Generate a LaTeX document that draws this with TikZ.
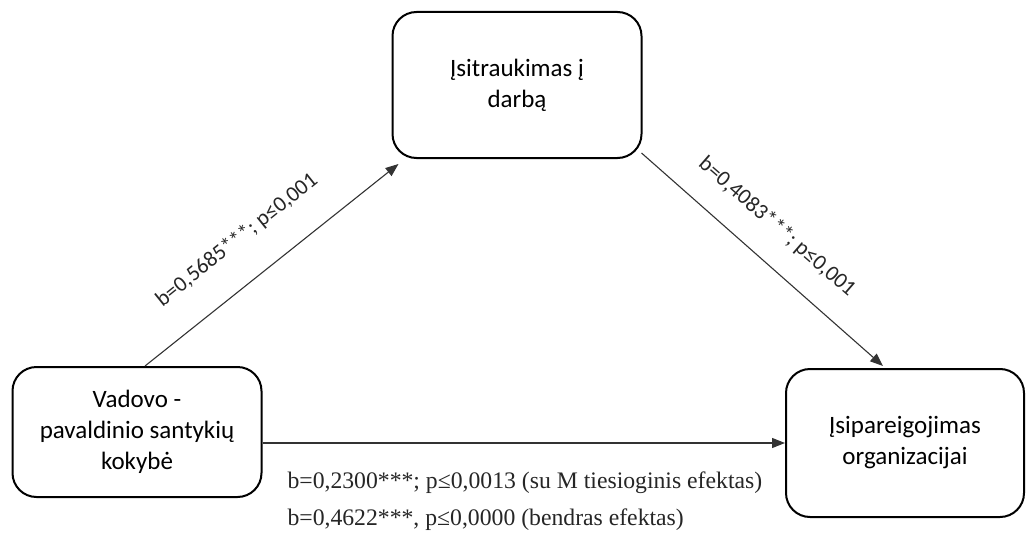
\documentclass[tikz,border=0pt]{standalone}
\usepackage{fontspec}
\setmainfont{Carlito}
\newfontfamily\cambriafont{Liberation Serif}
\usetikzlibrary{arrows.meta,calc}

\begin{document}
\begin{tikzpicture}[
  x=1pt,y=1pt,
  every node/.style={font=\fontsize{25}{31}\selectfont},
  varbox/.style={draw=black,line width=2pt,rounded corners=24pt,align=center,inner sep=0pt},
  effect/.style={draw=black!80,line width=1.1pt,-{Triangle[length=13pt,width=10pt]}},
  coef/.style={font=\fontsize{22}{24}\selectfont,text=black!85},
  note/.style={font=\cambriafont\fontsize{23.7}{26}\selectfont,anchor=west,text=black!85}
]

% ---- canvas ----
\path[use as bounding box] (0,0) rectangle (1027,542);

% ---- variables ----
\node[varbox,minimum width=249,minimum height=146] (darba) at (517,457)
  {Įsitraukimas į\\darbą};
\node[varbox,minimum width=249,minimum height=130] (vadovo) at (137,110)
  {Vadovo -\\pavaldinio santykių\\kokybė};
\node[varbox,minimum width=238,minimum height=148] (isipar) at (905,99)
  {Įsipareigojimas\\organizacijai};

% ---- effects ----
\draw[effect] ($(vadovo.north)+(8,0)$) -- ($(darba.south west)+(7,-5)$);
\draw[effect] ($(darba.south east)+(-1,6)$) -- ($(isipar.north)+(-22,2)$);
\draw[effect] (vadovo.east |- isipar.west) -- (isipar.west);

% ---- coefficients ----
\node[coef,rotate=38.7] (coefa) at (237,302) {b=0,5685***; p≤0,001};
\node[coef,rotate=-41] (coefb) at (777,315) {b=0,4083***; p≤0,001};
\node[note] (direct) at (284,59)
  {b=0,2300***; p≤0,0013 (su M tiesioginis efektas)};
\node[note] (total) at (284,22)
  {b=0,4622***, p≤0,0000 (bendras efektas)};

\end{tikzpicture}
\end{document}
